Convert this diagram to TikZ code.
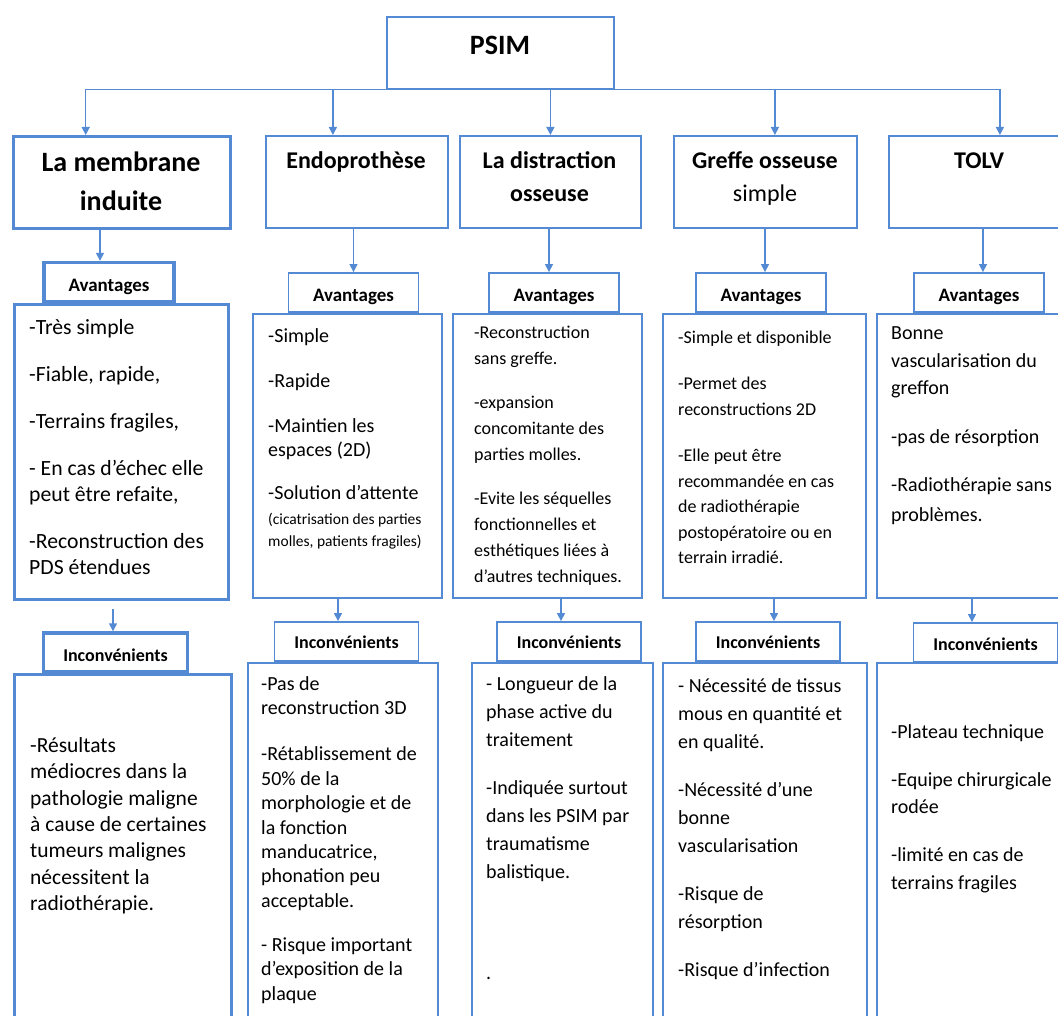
\documentclass[tikz,border=0pt]{standalone}
\usepackage{fontspec}
\setmainfont{Carlito}
\usetikzlibrary{arrows.meta}
\usetikzlibrary{calc}
\definecolor{psimblue}{RGB}{84,138,212}
\newcommand\fs[2]{\fontsize{#1}{#2}\selectfont}
\newcommand\sm{\fs{15.5}{18}}

\begin{document}
\begin{tikzpicture}[x=1pt, y=-1pt,
  box/.style={draw=psimblue, line width=1.8pt, inner sep=0pt, anchor=north west},
  heavy/.style={line width=3.4pt},
  tab/.style={draw=psimblue, line width=1.8pt, inner sep=0pt},
  avtab/.style={tab, minimum width=130pt, minimum height=39pt,
    font=\bfseries\fs{19}{22}, text height=18pt, text depth=0pt},
  inctab/.style={tab, minimum width=144pt, minimum height=39pt,
    font=\bfseries\fs{18}{22}, text height=13pt, text depth=0pt},
  txt/.style={anchor=north west, inner sep=0pt, align=left,
    execute at begin node={\rule{0pt}{1em}}},
  hd/.style={anchor=north, inner sep=0pt, align=center,
    execute at begin node={\rule{0pt}{1em}}},
  arr/.style={draw=psimblue, line width=1.4pt, -{Triangle[length=8pt,width=8pt]}}]
  \useasboundingbox (0,0) rectangle (1058,1016);
  \clip (0,0) rectangle (1058,1016);

  % top box
  \node[box, minimum width=227pt, minimum height=72pt] (psim) at (386,16) {};
  \node[anchor=base, font=\bfseries\fs{28}{32}] (psimTxt) at (500,55) {PSIM};

  % the five methods
  \node[box, heavy, minimum width=217pt, minimum height=92pt] (mem) at (12,135) {};
  \node[box, minimum width=182pt, minimum height=92pt] (endo) at (265,135) {};
  \node[box, minimum width=181pt, minimum height=92pt] (dist) at (459,135) {};
  \node[box, minimum width=183pt, minimum height=92pt] (greffe) at (673,135) {};
  \node[box, minimum width=182pt, minimum height=92pt] (tolv) at (888,135) {};

  \node[hd, font=\bfseries\fs{28}{39}] (memTxt) at (121,152) {La membrane\\induite};
  \node[hd, font=\bfseries\fs{24}{33}] (endoTxt) at (356,144) {Endoprothèse};
  \node[hd, font=\bfseries\fs{24}{33}] (distTxt) at (549.5,151) {La distraction\\osseuse};
  \node[hd, font=\bfseries\fs{24}{33}] (greffeTxt) at (765,151) {Greffe osseuse\\{\mdseries simple}};
  \node[hd, font=\bfseries\fs{24}{33}] (tolvTxt) at (979,144) {TOLV};

  % Avantages
  \node[avtab, heavy, text height=19pt] (avMem) at (109,282) {Avantages};
  \node[avtab] (avEndo) at (353.5,292.5) {Avantages};
  \node[avtab] (avDist) at (554,292.5) {Avantages};
  \node[avtab] (avGreffe) at (761,292.5) {Avantages};
  \node[avtab] (avTolv) at (979,292.5) {Avantages};

  \node[box, heavy, minimum width=214pt, minimum height=295pt] (avMemBox) at (13,303) {};
  \node[box, minimum width=189pt, minimum height=284pt] (avEndoBox) at (252,313) {};
  \node[box, minimum width=189pt, minimum height=284pt] (avDistBox) at (452,313) {};
  \node[box, minimum width=203pt, minimum height=284pt] (avGreffeBox) at (662,313) {};
  \node[box, minimum width=194pt, minimum height=284pt] (avTolvBox) at (876,313) {};

  \node[txt, font=\fs{21.7}{26}] (avMemTxt) at (29,319)
    {-Très simple\\[21pt]-Fiable, rapide,\\[21pt]-Terrains fragiles,\\[21pt]- En cas d’échec elle\\peut être refaite,\\[21pt]-Reconstruction des\\PDS étendues};
  \node[txt, font=\fs{20}{24}] (avEndoTxt) at (268,328.5)
    {-Simple\\[21pt]-Rapide\\[21pt]-Maintien les\\espaces (2D)\\[19pt]-Solution d’attente\\[1pt]{\sm(cicatrisation des parties}\\[-2pt]{\sm molles, patients fragiles)}};
  \node[txt, font=\fs{18}{26}] (avDistTxt) at (474,326)
    {-Reconstruction\\sans greffe.\\[18pt]-expansion\\concomitante des\\parties molles.\\[18pt]-Evite les séquelles\\fonctionnelles et\\esthétiques liées à\\d’autres techniques.};
  \node[txt, font=\fs{18}{25.5}] (avGreffeTxt) at (678,330.5)
    {-Simple et disponible\\[21pt]-Permet des\\reconstructions 2D\\[21pt]-Elle peut être\\recommandée en cas\\de radiothérapie\\postopératoire ou en\\terrain irradié.};
  \node[txt, font=\fs{20}{27.5}] (avTolvTxt) at (891,326.5)
    {Bonne\\vascularisation du\\greffon\\[21pt]-pas de résorption\\[21pt]-Radiothérapie sans\\[2.5pt]problèmes.};

  % Inconvenients
  \node[inctab, heavy, text height=18pt] (incMem) at (115.5,652.5) {Inconvénients};
  \node[inctab] (incEndo) at (346.5,641.5) {Inconvénients};
  \node[inctab] (incDist) at (569,641.5) {Inconvénients};
  \node[inctab] (incGreffe) at (768,641.5) {Inconvénients};
  \node[inctab, text height=15pt] (incTolv) at (985.5,642.5) {Inconvénients};

  \node[box, heavy, minimum width=217pt, minimum height=360pt] (incMemBox) at (13,673) {};
  \node[box, minimum width=190pt, minimum height=370pt] (incEndoBox) at (247,662) {};
  \node[box, minimum width=181pt, minimum height=370pt] (incDistBox) at (471,662) {};
  \node[box, minimum width=204pt, minimum height=370pt] (incGreffeBox) at (662,662) {};
  \node[box, minimum width=194pt, minimum height=370pt] (incTolvBox) at (876,662) {};

  \node[txt, font=\fs{21.5}{26.3}] (incMemTxt) at (30,737.5)
    {-Résultats\\médiocres dans la\\pathologie maligne\\à cause de certaines\\tumeurs malignes\\nécessitent la\\radiothérapie.};
  \node[txt, font=\fs{20}{24.4}] (incEndoTxt) at (261,676.5)
    {-Pas de\\reconstruction 3D\\[21.6pt]-Rétablissement de\\50\% de la\\morphologie et de\\la fonction\\manducatrice,\\phonation peu\\acceptable.\\[19.6pt]- Risque important\\d’exposition de la\\plaque};
  \node[txt, font=\fs{20}{28}] (incDistTxt) at (486,676)
    {- Longueur de la\\phase active du\\traitement\\[20pt]-Indiquée surtout\\dans les PSIM par\\traumatisme\\balistique.\\[73pt].};
  \node[txt, font=\fs{20}{28}] (incGreffeTxt) at (678,678.5)
    {- Nécessité de tissus\\mous en quantité et\\en qualité.\\[20pt]-Nécessité d’une\\bonne\\vascularisation\\[20pt]-Risque de\\résorption\\[20pt]-Risque d’infection};
  \node[txt, font=\fs{20}{27.5}] (incTolvTxt) at (891,724)
    {-Plateau technique\\[20.5pt]-Equipe chirurgicale\\rodée\\[20.5pt]-limité en cas de\\terrains fragiles};

  % PSIM down to the methods
  \draw[arr] (psim.south) -| ($(mem.north)+(-36.5,0)$);
  \draw[arr] (psim.south) -| ($(endo.north)+(-24,0)$);
  \draw[arr] (psim.south) -| (dist.north);
  \draw[arr] (psim.south) -| ($(greffe.north)+(9.5,0)$);
  \draw[arr] (psim.south) -| ($(tolv.north)+(20,0)$);

  % methods down to Avantages
  \draw[arr] ($(avMem.north |- mem.south)+(-9,0)$) -- ($(avMem.north)+(-9,0)$);
  \draw[arr] (avEndo.north |- endo.south) -- (avEndo.north);
  \draw[arr] ($(avDist.north |- dist.south)+(-5,0)$) -- ($(avDist.north)+(-5,0)$);
  \draw[arr] ($(avGreffe.north |- greffe.south)+(4,0)$) -- ($(avGreffe.north)+(4,0)$);
  \draw[arr] ($(avTolv.north |- tolv.south)+(4,0)$) -- ($(avTolv.north)+(4,0)$);

  % Avantages down to Inconvenients
  \draw[arr] ($(incMem.north |- avMemBox.south)+(-2.5,8)$) -- ($(incMem.north)+(-2.5,0)$);
  \draw[arr] ($(incEndo.north |- avEndoBox.south)+(-8.5,0)$) -- ($(incEndo.north)+(-8.5,0)$);
  \draw[arr] ($(incDist.north |- avDistBox.south)+(-8,0)$) -- ($(incDist.north)+(-8,0)$);
  \draw[arr] ($(incGreffe.north |- avGreffeBox.south)+(6,0)$) -- ($(incGreffe.north)+(6,0)$);
  \draw[arr] ($(incTolv.north |- avTolvBox.south)+(-13.5,0)$) -- ($(incTolv.north)+(-13.5,0)$);
\end{tikzpicture}
\end{document}
